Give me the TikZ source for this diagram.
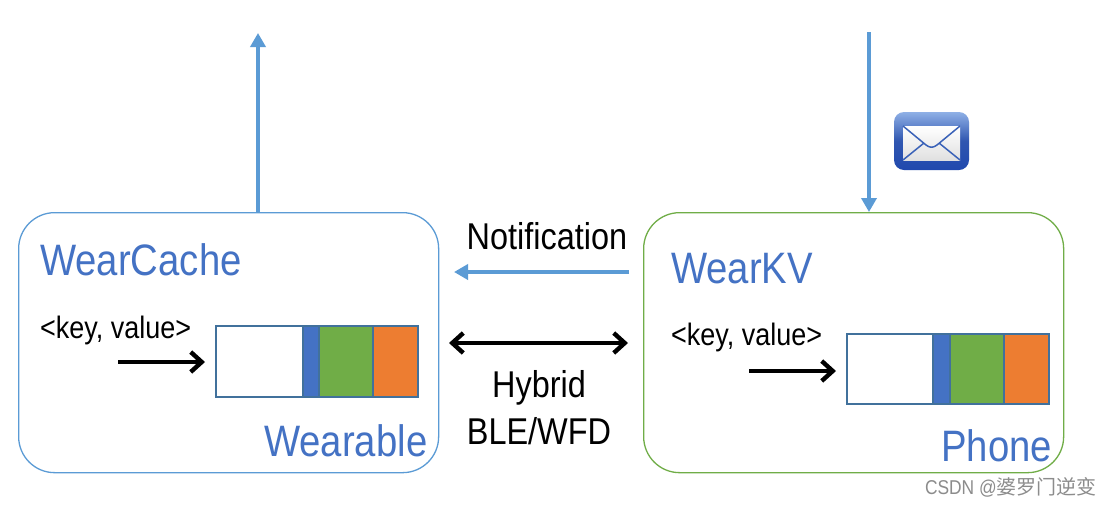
\documentclass[tikz,border=0pt]{standalone}
\usepackage{fontspec}
\setmainfont[FakeStretch=0.87]{Liberation Sans}
\newfontfamily\cjk{Noto Sans CJK SC}
\usetikzlibrary{arrows.meta,positioning}
\definecolor{wearblue}{HTML}{4472C4}
\definecolor{linkblue}{HTML}{5B9BD5}
\definecolor{boxgreen}{HTML}{70AD47}
\definecolor{boxorange}{HTML}{ED7D31}
\definecolor{edgeblue}{HTML}{41719C}
\definecolor{mailtop}{HTML}{8FB0E6}
\definecolor{mailmid}{HTML}{2F56B0}
\definecolor{mailbot}{HTML}{2149AE}
\definecolor{mailline}{HTML}{3A62B8}
\tikzset{
  x=1pt,y=-1pt,
  device/.style={draw,line width=1.3pt,rounded corners=36pt,inner sep=0pt,minimum width=#1,minimum height=260pt},
  title/.style={anchor=base west,inner sep=0pt,text=wearblue,font=\fontsize{44}{44}\selectfont},
  plain/.style={anchor=base,inner sep=0pt,text=black,font=\fontsize{37.3}{37.3}\selectfont},
  kv/.style={anchor=base west,inner sep=0pt,text=black,font=\fontsize{31}{31}\selectfont},
  flow/.style={draw=linkblue,line width=4pt,-{Triangle[length=14pt,width=15pt]}},
  put/.style={draw=black,line width=4.4pt,-{Straight Barb[length=11pt,width=20pt,line width=4.4pt]}},
  link/.style={draw=black,line width=4.4pt,{Straight Barb[length=11pt,width=20pt,line width=4.4pt]}-{Straight Barb[length=11pt,width=20pt,line width=4.4pt]}},
  cell/.style={draw=edgeblue,line width=1.2pt},
}
\begin{document}
\begin{tikzpicture}
\useasboundingbox (0,0) rectangle (1112,507);
\fill[white] (0,0) rectangle (1112,507);

% The two devices
\node[device=420pt,draw=linkblue,anchor=north west] (wearable) at (18,212) {};
\node[device=420pt,draw=boxgreen,anchor=north west] (phone) at (643,212) {};

% Titles and device names
\node[title] (wc) at (40,275) {WearCache};
\node[title] (wk) at (671,283) {WearKV};
\node[title,xscale=1] (wl) at (264,456) {Wearable};
\node[title] (ph) at (941,461) {Phone};

% Log-structured store on the wearable
\draw[cell,fill=white] (216,326) rectangle (303,397);
\draw[cell,fill=wearblue] (303,326) rectangle (319,397);
\draw[cell,fill=boxgreen] (319,326) rectangle (373,397);
\draw[cell,fill=boxorange] (373,326) rectangle (418,397);
\coordinate (wstore) at (205,362);
\coordinate (wsrc) at (118,362);
\node[kv] (wkv) at (40,338) {<key, value>};
\draw[put] (wsrc) -- (wstore);

% Log-structured store on the phone
\draw[cell,fill=white] (847,334) rectangle (933,404);
\draw[cell,fill=wearblue] (933,334) rectangle (950,404);
\draw[cell,fill=boxgreen] (950,334) rectangle (1004,404);
\draw[cell,fill=boxorange] (1004,334) rectangle (1049,404);
\coordinate (pstore) at (836,371);
\coordinate (psrc) at (749,371);
\node[kv] (pkv) at (671,345) {<key, value>};
\draw[put] (psrc) -- (pstore);

% Connectors outside the devices
\coordinate (appup) at (258,33);
\coordinate (appdown) at (869,32);
\draw[flow] (wearable.north -| appup) -- (appup);
\draw[flow] (appdown) -- (phone.north -| appdown);

\coordinate (nsrc) at (629,272);
\coordinate (ndst) at (454,272);
\draw[flow] (nsrc) -- (ndst);
\node[plain] (notif) at (547,249) {Notification};

\coordinate (hl) at (449,343);
\coordinate (hr) at (628,343);
\draw[link] (hl) -- (hr);
\node[plain] (hyb) at (539,397) {Hybrid};
\node[plain] (ble) at (539,444) {BLE/WFD};

% Mail icon
\begin{scope}
  \path[rounded corners=10pt,top color=mailtop,bottom color=mailbot,middle color=mailmid] (894,112) rectangle (969,170);
  \fill[top color=white,bottom color=black!12] (903,126) -- (960,126) -- (960,160) -- (903,160) -- cycle;
  \draw[draw=mailline,line width=1.5pt,line join=round] (903,126) -- (926,145) .. controls (930,148) and (933,148) .. (937,145) -- (960,126);
  \draw[draw=mailline,line width=1.5pt] (903,160) -- (924,143);
  \draw[draw=mailline,line width=1.5pt] (960,160) -- (939,143);
\end{scope}

% Watermark
\node[anchor=base east,inner sep=0pt,text=black!45,font=\fontsize{20}{20}\selectfont] (wm) at (1097,494) {CSDN @{\cjk 婆罗门逆变}};
\end{tikzpicture}
\end{document}
